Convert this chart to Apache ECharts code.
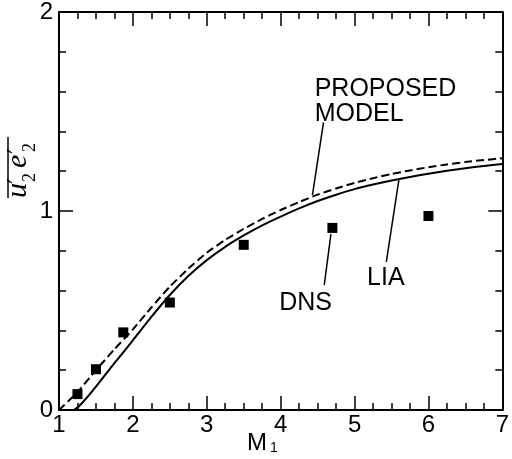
<!DOCTYPE html>
<html><head><meta charset="utf-8">
<script src="https://cdn.jsdelivr.net/npm/echarts@6/dist/echarts.min.js"></script>
<style>html,body{margin:0;padding:0;background:#fff}#c{width:512px;height:459px}</style>
</head><body><div id="c"></div>
<script>
// ---- data ----
const xTickLabels = ['1','2','3','4','5','6','7'];
const yTickLabels = ['0','1','2'];
const liaX = [1.2, 1.25, 1.3, 1.4, 1.5, 1.75, 2.0, 2.25, 2.5, 2.75, 3.0, 3.25, 3.5, 3.75, 4.0, 4.25, 4.5, 4.75, 5.0, 5.25, 5.5, 5.75, 6.0, 6.25, 6.5, 6.75, 7.0];
const liaY = [0.0, 0.012, 0.03, 0.072, 0.118, 0.235, 0.35, 0.468, 0.578, 0.673, 0.753, 0.82, 0.877, 0.928, 0.972, 1.013, 1.05, 1.082, 1.11, 1.133, 1.153, 1.171, 1.187, 1.202, 1.215, 1.226, 1.236];
const modelX = [1.0, 1.25, 1.5, 1.75, 2.0, 2.25, 2.5, 2.75, 3.0, 3.25, 3.5, 3.75, 4.0, 4.25, 4.5, 4.75, 5.0, 5.25, 5.5, 5.75, 6.0, 6.25, 6.5, 6.75, 7.0];
const modelY = [0.0, 0.09, 0.2, 0.305, 0.405, 0.515, 0.62, 0.71, 0.79, 0.855, 0.91, 0.96, 1.005, 1.045, 1.082, 1.113, 1.141, 1.165, 1.186, 1.204, 1.22, 1.234, 1.246, 1.256, 1.265];
const dnsX = [1.25, 1.5, 1.87, 2.5, 3.5, 4.7, 6.0];
const dnsY = [0.08, 0.205, 0.39, 0.54, 0.83, 0.915, 0.975];
// annotation anchors (data space)
const labelModel = {text: 'PROPOSED\nMODEL', x: 4.46, y: 1.675};
const leaderModel = [[4.58, 1.445], [4.43, 1.08]];
const labelLIA = {text: 'LIA', x: 5.17, y: 0.725};
const leaderLIA = [[5.43, 0.744], [5.60, 1.156]];
const labelDNS = {text: 'DNS', x: 3.98, y: 0.6};
const leaderDNS = [[4.68, 0.884], [4.59, 0.628]];

const zip = (a, b) => a.map((v, i) => [v, b[i]]);
const FONT = '"Liberation Sans", Arial, sans-serif';

const chart = echarts.init(document.getElementById('c'), null, {renderer: 'canvas'});

function axisCommon(showLabel, minorSplit) {
  return {
    axisLine: {show: true, onZero: false, lineStyle: {color: '#000', width: 2}},
    axisTick: {show: true, inside: true, length: 14, lineStyle: {color: '#000', width: 1.5}},
    minorTick: {show: true, splitNumber: minorSplit, length: 7, lineStyle: {color: '#000', width: 1.5}},
    splitLine: {show: false},
    minorSplitLine: {show: false},
    axisLabel: {show: showLabel, color: '#000', fontSize: 24, fontFamily: FONT}
  };
}

const option = {
  animation: false,
  backgroundColor: '#fff',
  grid: {left: 59, right: 5, top: 12, bottom: 49, containLabel: false},
  xAxis: [
    Object.assign({type: 'value', min: 1, max: 7, interval: 1, position: 'bottom'}, axisCommon(true, 4),
      {axisLabel: {show: true, color: '#000', fontSize: 24, fontFamily: FONT, margin: 3,
        formatter: v => xTickLabels[Math.round(v) - 1]}}),
    Object.assign({type: 'value', min: 1, max: 7, interval: 1, position: 'top'}, axisCommon(false, 4))
  ],
  yAxis: [
    Object.assign({type: 'value', min: 0, max: 2, interval: 1, position: 'left'}, axisCommon(true, 5),
      {axisLabel: {show: true, color: '#000', fontSize: 24, fontFamily: FONT, margin: 6,
        formatter: v => yTickLabels[Math.round(v)]}}),
    Object.assign({type: 'value', min: 0, max: 2, interval: 1, position: 'right'}, axisCommon(false, 5))
  ],
  series: [
    {name: 'LIA', type: 'line', data: zip(liaX, liaY), smooth: 0.2, showSymbol: false,
      lineStyle: {color: '#000', width: 2, type: 'solid'}},
    {name: 'PROPOSED MODEL', type: 'line', data: zip(modelX, modelY), smooth: 0.2, showSymbol: false,
      lineStyle: {color: '#000', width: 2, type: [8, 4]}},
    {name: 'DNS', type: 'scatter', data: zip(dnsX, dnsY), symbol: 'rect', symbolSize: 10,
      itemStyle: {color: '#000', opacity: 1}}
  ]
};
chart.setOption(option);

function px(p) { return chart.convertToPixel({xAxisIndex: 0, yAxisIndex: 0}, p); }
function annoText(l) {
  const p = px([l.x, l.y]);
  return {type: 'text', x: p[0], y: p[1], silent: true,
    style: {text: l.text, font: '25px ' + FONT, fill: '#000', lineHeight: 25, align: 'left', verticalAlign: 'top'}};
}
function leader(seg) {
  const a = px(seg[0]), b = px(seg[1]);
  return {type: 'line', silent: true, shape: {x1: a[0], y1: a[1], x2: b[0], y2: b[1]},
    style: {stroke: '#000', lineWidth: 1.5}};
}
const serif = '"Liberation Serif", "DejaVu Serif", serif';
// y-axis title: overline(u'_2 e'_2), rotated to read bottom-to-top
const R = Math.PI / 2;
function rtext(txt, sx, sy, font) {
  return {type: 'text', x: sx, y: sy, rotation: R, silent: true,
    style: {text: txt, font: font, fill: '#000', align: 'left', verticalAlign: 'middle'}};
}
const yLabelParts = [
  rtext('u', 18, 198, 'italic 30px ' + serif),
  rtext('\u2032', 19, 184, '26px "DejaVu Serif", serif'),
  rtext('2', 30, 182, '18px ' + serif),
  rtext('e', 18, 168, 'italic 30px ' + serif),
  rtext('\u2032', 19, 154, '26px "DejaVu Serif", serif'),
  rtext('2', 30, 152, '18px ' + serif),
  {type: 'line', silent: true, shape: {x1: 8, y1: 198, x2: 8, y2: 137}, style: {stroke: '#000', lineWidth: 1.5}}
];
chart.setOption({
  graphic: [
    annoText(labelModel), leader(leaderModel),
    annoText(labelLIA), leader(leaderLIA),
    annoText(labelDNS), leader(leaderDNS),
    {type: 'text', x: 247, y: 431, silent: true, style: {text: 'M', font: '24px ' + FONT, fill: '#000', verticalAlign: 'top'}},
    {type: 'text', x: 270, y: 441, silent: true, style: {text: '1', font: '14px ' + FONT, fill: '#000', verticalAlign: 'top'}}
  ].concat(yLabelParts)
});
</script>
</body></html>
